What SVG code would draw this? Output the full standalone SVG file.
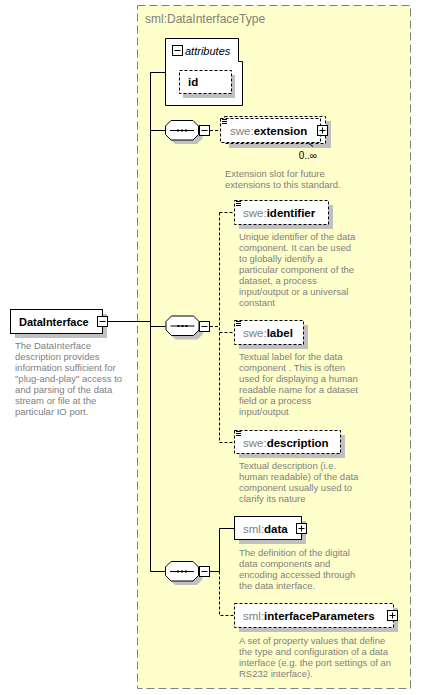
<svg xmlns="http://www.w3.org/2000/svg" width="421" height="695" viewBox="0 0 421 695">
<style>
text{font-family:"Liberation Sans",Arial,sans-serif}
.title{font-size:12px;fill:#808080}
.name{font-size:11.5px;font-weight:bold;fill:#000}
.pre{font-weight:normal;fill:#808080}
.desc{font-size:9.5px;fill:#808080}
.box{fill:#fff;stroke:#000;stroke-width:1}
.dbox{fill:#fff;stroke:#000;stroke-width:1;stroke-dasharray:3,2}
.shadow{fill:#c0c0c0}
.line{fill:none;stroke:#000;stroke-width:1}
.dline{fill:none;stroke:#000;stroke-width:1;stroke-dasharray:3,2}
</style>
<defs>
<g id="oct">
<polygon class="shadow" points="4.5,9.5 10,4 32,4 37.5,9.5 37.5,18 32,23.5 10,23.5 4.5,18"/>
<polygon class="box" points="0.5,5.5 6,0 28,0 33.5,5.5 33.5,14 28,19.5 6,19.5 0.5,14"/>
<line x1="5" y1="10" x2="29" y2="10" stroke="#000"/>
<rect x="12" y="9" width="2" height="2" fill="#000"/>
<rect x="16" y="9" width="2" height="2" fill="#000"/>
<rect x="20" y="9" width="2" height="2" fill="#000"/>
</g>
<g id="minus">
<rect x="0.5" y="0.5" width="10" height="10" fill="#fff" stroke="#000"/>
<line x1="2.5" y1="5.5" x2="8.5" y2="5.5" stroke="#000"/>
</g>
<g id="plus">
<rect x="0.5" y="0.5" width="10" height="10" fill="#fff" stroke="#000"/>
<line x1="2.5" y1="5.5" x2="8.5" y2="5.5" stroke="#000"/>
<line x1="5.5" y1="2.5" x2="5.5" y2="8.5" stroke="#000"/>
</g>
<g id="doc">
<line x1="0" y1="0.5" x2="5" y2="0.5" stroke="#000"/>
<line x1="0" y1="2.5" x2="5" y2="2.5" stroke="#000"/>
<line x1="0" y1="4.5" x2="5" y2="4.5" stroke="#000"/>
</g>
</defs>

<g id="container">
<rect x="137.5" y="5.5" width="273" height="683" fill="#ffffcc" stroke="#808080" stroke-dasharray="8,4"/>
<text class="title" x="145" y="23">sml:DataInterfaceType</text>
</g>

<g id="connectors">
<line class="line" x1="150.5" y1="72" x2="150.5" y2="571.5"/>
<line class="line" x1="150.5" y1="72.5" x2="165" y2="72.5"/>
<line class="line" x1="150.5" y1="130.5" x2="165.5" y2="130.5"/>
<line class="line" x1="108" y1="321.5" x2="150.5" y2="321.5"/>
<line class="line" x1="150.5" y1="326.5" x2="165.5" y2="326.5"/>
<line class="line" x1="150.5" y1="571.5" x2="165.5" y2="571.5"/>
<line class="dline" x1="210" y1="130.5" x2="220.5" y2="130.5"/>
<line class="dline" x1="210" y1="326.5" x2="219.5" y2="326.5"/>
<line class="dline" x1="219.5" y1="212.5" x2="219.5" y2="442.5"/>
<line class="dline" x1="219.5" y1="212.5" x2="234.5" y2="212.5"/>
<line class="dline" x1="219.5" y1="332.5" x2="234.5" y2="332.5"/>
<line class="dline" x1="219.5" y1="442.5" x2="234.5" y2="442.5"/>
<polyline class="line" points="210,571.5 219.5,571.5 219.5,528.5 234.5,528.5"/>
<polyline class="dline" points="219.5,571.5 219.5,615.5 234.5,615.5"/>
</g>

<g id="node-datainterface">
<rect class="shadow" x="15" y="314" width="92" height="24"/>
<rect class="box" x="10.5" y="309.5" width="92" height="24"/>
<text x="19" y="326" style="font-size:11px;font-weight:bold">DataInterface</text>
<use href="#minus" x="97" y="316"/>
<text class="desc" x="15"><tspan x="15" y="349">The DataInterface</tspan><tspan x="15" y="360">description provides</tspan><tspan x="15" y="371">information sufficient for</tspan><tspan x="15" y="382">"plug-and-play" access to</tspan><tspan x="15" y="393">and parsing of the data</tspan><tspan x="15" y="404">stream or file at the</tspan><tspan x="15" y="415">particular IO port.</tspan></text>
</g>

<g id="node-attributes">
<path class="box" d="M165.5,38.5 H238.5 V61.5 H242.5 V105.5 H165.5 Z"/>
<use href="#minus" x="172" y="45"/>
<text x="185" y="55" style="font-size:11px;font-style:italic">attributes</text>
</g>

<g id="node-id">
<rect class="shadow" x="183" y="75" width="52" height="23"/>
<rect class="dbox" x="179.5" y="70.5" width="52" height="23"/>
<text x="188" y="86" style="font-size:11.5px;font-weight:bold">id</text>
</g>

<g id="seq-1">
<use href="#oct" x="165" y="120.5"/>
<use href="#minus" x="199" y="125"/>
</g>

<g id="node-extension">
<rect class="shadow" x="229" y="121" width="102" height="27"/>
<rect class="dbox" x="224.5" y="116.5" width="101" height="27"/>
<rect class="dbox" x="220.5" y="118.5" width="100" height="24"/>
<use href="#doc" x="222" y="119"/>
<text class="name" x="230" y="135"><tspan class="pre">swe:</tspan>extension</text>
<use href="#plus" x="317" y="125"/>
<line x1="309" y1="143.5" x2="313" y2="146.5" stroke="#000"/>
<text x="317" y="159" text-anchor="end" style="font-size:10px">0..∞</text>
<text class="desc"><tspan x="225" y="177">Extension slot for future</tspan><tspan x="225" y="188">extensions to this standard.</tspan></text>
</g>

<g id="seq-2">
<use href="#oct" x="165.5" y="316"/>
<use href="#minus" x="199" y="321"/>
</g>

<g id="node-identifier">
<rect class="shadow" x="239" y="205" width="94" height="24"/>
<rect class="dbox" x="234.5" y="200.5" width="94" height="24"/>
<use href="#doc" x="236" y="201"/>
<text class="name" x="243" y="217"><tspan class="pre">swe:</tspan>identifier</text>
<text class="desc"><tspan x="239" y="240">Unique identifier of the data</tspan><tspan x="239" y="251">component. It can be used</tspan><tspan x="239" y="262">to globally identify a</tspan><tspan x="239" y="273">particular component of the</tspan><tspan x="239" y="284">dataset, a process</tspan><tspan x="239" y="295">input/output or a universal</tspan><tspan x="239" y="306">constant</tspan></text>
</g>

<g id="node-label">
<rect class="shadow" x="239" y="325" width="69" height="24"/>
<rect class="dbox" x="234.5" y="320.5" width="69" height="24"/>
<use href="#doc" x="236" y="321"/>
<text class="name" x="243" y="337"><tspan class="pre">swe:</tspan>label</text>
<text class="desc"><tspan x="239" y="360">Textual label for the data</tspan><tspan x="239" y="371">component . This is often</tspan><tspan x="239" y="382">used for displaying a human</tspan><tspan x="239" y="393">readable name for a dataset</tspan><tspan x="239" y="404">field or a process</tspan><tspan x="239" y="415">input/output</tspan></text>
</g>

<g id="node-description">
<rect class="shadow" x="239" y="435" width="106" height="23"/>
<rect class="dbox" x="234.5" y="430.5" width="106" height="23"/>
<use href="#doc" x="236" y="431"/>
<text class="name" x="243" y="446.5"><tspan class="pre">swe:</tspan>description</text>
<text class="desc"><tspan x="239" y="469">Textual description (i.e.</tspan><tspan x="239" y="480">human readable) of the data</tspan><tspan x="239" y="491">component usually used to</tspan><tspan x="239" y="502">clarify its nature</tspan></text>
</g>

<g id="seq-3">
<use href="#oct" x="165" y="561.5"/>
<use href="#minus" x="199" y="566"/>
</g>

<g id="node-data">
<rect class="shadow" x="239" y="521" width="67" height="23"/>
<rect class="box" x="234.5" y="516.5" width="67" height="23"/>
<text class="name" x="243" y="532.5"><tspan class="pre">sml:</tspan>data</text>
<use href="#plus" x="296" y="523"/>
<text class="desc"><tspan x="239" y="556">The definition of the digital</tspan><tspan x="239" y="567">data components and</tspan><tspan x="239" y="578">encoding accessed through</tspan><tspan x="239" y="589">the data interface.</tspan></text>
</g>

<g id="node-interfaceparameters">
<rect class="shadow" x="239" y="608" width="159" height="24"/>
<rect class="dbox" x="234.5" y="603.5" width="159" height="24"/>
<text class="name" x="243" y="620"><tspan class="pre">sml:</tspan>interfaceParameters</text>
<use href="#plus" x="387" y="610"/>
<text class="desc"><tspan x="239" y="644">A set of property values that define</tspan><tspan x="239" y="655">the type and configuration of a data</tspan><tspan x="239" y="666">interface (e.g. the port settings of an</tspan><tspan x="239" y="677">RS232 interface).</tspan></text>
</g>
</svg>
